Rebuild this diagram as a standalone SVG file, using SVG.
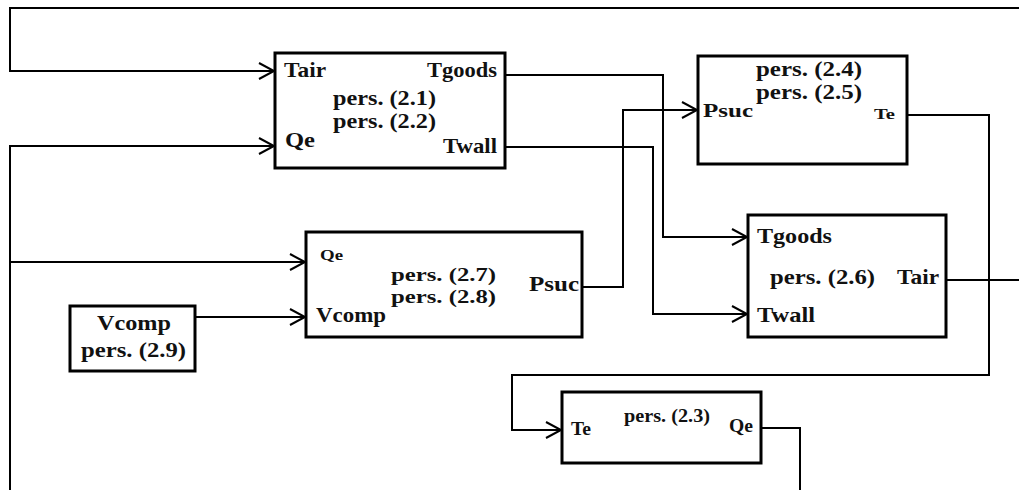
<svg xmlns="http://www.w3.org/2000/svg" width="1019" height="490" viewBox="0 0 1019 490">
  <style>
    .box { fill: none; stroke: #000; stroke-width: 3; }
    .wire { fill: none; stroke: #000; stroke-width: 2; }
    .arr { marker-end: url(#chev); }
    text { font-family: "Liberation Serif", "Times New Roman", serif; font-weight: bold; fill: #111; }
    .big { font-size: 21px; }
    .st { font-size: 19px; }
    .mid { font-size: 18px; }
    .sm { font-size: 14px; }
  </style>
  <defs>
    <marker id="chev" markerUnits="userSpaceOnUse" markerWidth="20" markerHeight="20" refX="16" refY="9" orient="auto" viewBox="0 0 20 20">
      <path d="M1,1 L16,9 L1,17" fill="none" stroke="#000" stroke-width="2"/>
    </marker>
  </defs>

  <rect width="1019" height="490" fill="#fff"/>

  <!-- signal lines -->
  <g id="connectors">
    <!-- air temperature fed back to the first block -->
    <path class="wire arr" d="M1019,8 H10 V71 H274"/>
    <path class="wire" d="M946,280 H1019"/>
    <!-- evaporator heat load bus -->
    <path class="wire arr" d="M10,490 V146 H274"/>
    <path class="wire arr" d="M10,262 H305"/>
    <path class="wire" d="M761,428 H800 V490"/>
    <!-- goods and wall temperatures -->
    <path class="wire arr" d="M505,75 H663 V237 H747"/>
    <path class="wire arr" d="M505,147 H653 V314 H747"/>
    <!-- suction pressure -->
    <path class="wire arr" d="M582,287 H623 V110 H697"/>
    <!-- evaporating temperature -->
    <path class="wire arr" d="M907,115 H989 V375 H512 V430 H561"/>
    <!-- compressor speed -->
    <path class="wire arr" d="M195,317 H305"/>
  </g>

  <g id="block-21-22">
    <rect class="box" x="275" y="53" width="230" height="115"/>
    <text class="big" x="284" y="77" textLength="42" lengthAdjust="spacingAndGlyphs">Tair</text>
    <text class="big" x="427" y="77" textLength="70" lengthAdjust="spacingAndGlyphs">Tgoods</text>
    <text class="big" x="333" y="105" textLength="103" lengthAdjust="spacingAndGlyphs">pers. (2.1)</text>
    <text class="big" x="333" y="128" textLength="103" lengthAdjust="spacingAndGlyphs">pers. (2.2)</text>
    <text class="big" x="285" y="147" textLength="30" lengthAdjust="spacingAndGlyphs">Qe</text>
    <text class="big" x="443" y="153" textLength="54" lengthAdjust="spacingAndGlyphs">Twall</text>
  </g>

  <g id="block-24-25">
    <rect class="box" x="698" y="56" width="209" height="108"/>
    <text class="big" x="756" y="76" textLength="106" lengthAdjust="spacingAndGlyphs">pers. (2.4)</text>
    <text class="big" x="756" y="99" textLength="106" lengthAdjust="spacingAndGlyphs">pers. (2.5)</text>
    <text class="mid" x="703" y="117" textLength="50" lengthAdjust="spacingAndGlyphs">Psuc</text>
    <text class="sm" x="874" y="119" textLength="21" lengthAdjust="spacingAndGlyphs">Te</text>
  </g>

  <g id="block-27-28">
    <rect class="box" x="306" y="232" width="276" height="105"/>
    <text class="sm" x="320" y="260" textLength="23" lengthAdjust="spacingAndGlyphs">Qe</text>
    <text class="st" x="391" y="281" textLength="105" lengthAdjust="spacingAndGlyphs">pers. (2.7)</text>
    <text class="st" x="391" y="303" textLength="105" lengthAdjust="spacingAndGlyphs">pers. (2.8)</text>
    <text class="big" x="529" y="291" textLength="50" lengthAdjust="spacingAndGlyphs">Psuc</text>
    <text class="big" x="316" y="322" textLength="70" lengthAdjust="spacingAndGlyphs">Vcomp</text>
  </g>

  <g id="block-29">
    <rect class="box" x="70" y="306" width="125" height="65"/>
    <text class="big" x="97" y="330" textLength="74" lengthAdjust="spacingAndGlyphs">Vcomp</text>
    <text class="big" x="81" y="357" textLength="105" lengthAdjust="spacingAndGlyphs">pers. (2.9)</text>
  </g>

  <g id="block-26">
    <rect class="box" x="748" y="215" width="198" height="122"/>
    <text class="big" x="757" y="243" textLength="75" lengthAdjust="spacingAndGlyphs">Tgoods</text>
    <text class="big" x="770" y="284" textLength="105" lengthAdjust="spacingAndGlyphs">pers. (2.6)</text>
    <text class="big" x="897" y="284" textLength="42" lengthAdjust="spacingAndGlyphs">Tair</text>
    <text class="big" x="757" y="322" textLength="58" lengthAdjust="spacingAndGlyphs">Twall</text>
  </g>

  <g id="block-23">
    <rect class="box" x="562" y="392" width="199" height="71"/>
    <text class="mid" x="624" y="422" textLength="86" lengthAdjust="spacingAndGlyphs" font-size="17">pers. (2.3)</text>
    <text class="mid" x="571" y="435" textLength="20" lengthAdjust="spacingAndGlyphs">Te</text>
    <text class="mid" x="729" y="432" textLength="24" lengthAdjust="spacingAndGlyphs">Qe</text>
  </g>
</svg>
